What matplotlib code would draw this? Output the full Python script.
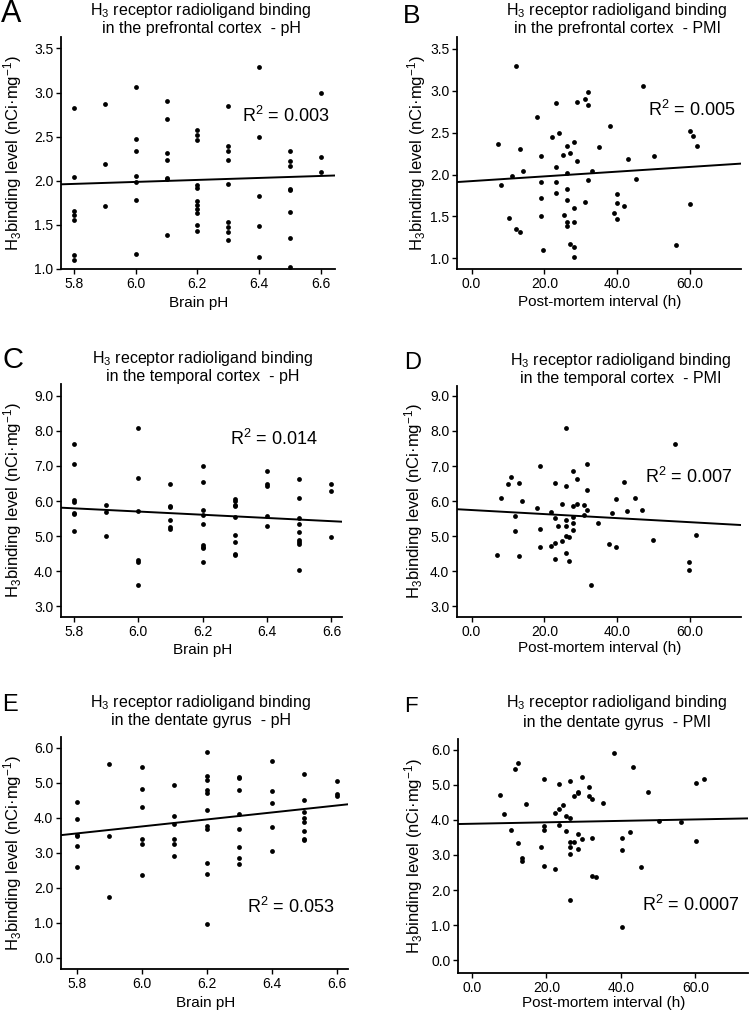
import numpy as np
import matplotlib
matplotlib.use("Agg")
import matplotlib.pyplot as plt

plt.rcParams['font.family'] = ['Liberation Sans', 'DejaVu Sans']
plt.rcParams['mathtext.fontset'] = 'custom'
plt.rcParams['mathtext.rm'] = 'Liberation Sans'
plt.rcParams['mathtext.it'] = 'Liberation Sans:italic'
plt.rcParams['mathtext.bf'] = 'Liberation Sans:bold'

# ---- data ----
ph_levels = [5.8, 5.9, 6.0, 6.1, 6.2, 6.3, 6.4, 6.5, 6.6]

# A: prefrontal cortex vs pH
a_vals = [[2.83, 2.04, 1.66, 1.61, 1.55, 1.16, 1.10],
          [2.87, 2.19, 1.71],
          [3.06, 2.47, 2.34, 2.05, 1.99, 1.78, 1.17],
          [2.91, 2.70, 2.31, 2.23, 2.03, 2.02, 1.38],
          [2.58, 2.52, 2.46, 1.95, 1.92, 1.77, 1.73, 1.68, 1.63, 1.50, 1.43],
          [2.85, 2.40, 2.34, 2.24, 1.96, 1.53, 1.48, 1.42, 1.33],
          [3.29, 2.50, 1.83, 1.49, 1.14],
          [2.34, 2.22, 2.17, 1.91, 1.89, 1.65, 1.35, 1.02],
          [2.99, 2.27, 2.10]]
a_fit = [1.96, 2.06]

# B: prefrontal cortex vs PMI
b_pmi = [7.3, 8.2, 10.3, 11.2, 12.3, 12.3, 13.2, 13.2, 14.2, 18.1, 19.1, 19.1,
         19.1, 19.1, 19.5, 22.1, 23.2, 23.2, 23.2, 23.2, 24.1, 25.1, 25.3, 26.1,
         26.1, 26.1, 26.1, 26.2, 26.2, 27.1, 27.1, 28.1, 28.1, 28.1, 28.1, 28.1,
         29.0, 29.0, 31.1, 31.1, 32.1, 32.1, 32.1, 33.1, 35.1, 38.1, 39.0, 40.0,
         40.0, 40.0, 42.0, 43.1, 45.1, 47.2, 50.1, 56.1, 59.9, 59.9, 60.9, 61.9]
b_val = [2.36, 1.88, 1.48, 1.98, 3.29, 1.35, 2.31, 1.32, 2.04, 2.69, 2.22, 1.91,
         1.72, 1.50, 1.10, 2.45, 2.85, 2.09, 1.91, 1.78, 2.49, 2.23, 1.52, 2.34,
         2.02, 1.83, 1.70, 1.43, 1.38, 2.26, 1.17, 2.39, 1.60, 1.43, 1.14, 1.02,
         2.86, 2.16, 2.90, 1.67, 2.98, 2.83, 1.94, 2.04, 2.33, 2.58, 1.54, 1.77,
         1.66, 1.47, 1.62, 2.18, 1.95, 3.06, 2.22, 1.16, 2.52, 1.65, 2.46, 2.34]
b_fit = [1.91, 2.13]

# C: temporal cortex vs pH
c_vals = [[7.63, 7.06, 6.02, 5.98, 5.65, 5.62, 5.15],
          [5.90, 5.70, 5.00],
          [8.08, 6.67, 5.72, 4.31, 4.27, 3.60],
          [6.50, 5.87, 5.82, 5.45, 5.25, 5.20],
          [7.00, 6.53, 5.73, 5.60, 5.35, 4.75, 4.70, 4.65, 4.27],
          [6.05, 6.00, 5.90, 5.85, 5.55, 5.02, 4.83, 4.48, 4.45],
          [6.85, 6.48, 6.42, 5.57, 5.28],
          [6.62, 6.08, 5.52, 5.35, 5.12, 4.88, 4.82, 4.77, 4.03],
          [6.50, 6.30, 4.97]]
c_fit = [5.81, 5.41]

# D: temporal cortex vs PMI
d_pmi = [6.9, 8.0, 9.9, 10.8, 11.9, 11.9, 12.9, 12.9, 13.9, 17.9, 18.9, 18.9,
         18.9, 21.8, 21.8, 22.8, 22.8, 22.8, 22.8, 23.8, 24.8, 24.8, 25.8, 25.8,
         25.8, 25.8, 25.8, 25.8, 26.7, 26.7, 27.8, 27.8, 27.8, 27.8, 27.8, 28.9,
         28.9, 30.8, 30.8, 31.8, 31.8, 31.8, 32.8, 34.8, 37.7, 38.7, 39.8, 39.8,
         41.8, 42.8, 44.8, 46.7, 49.7, 55.8, 59.7, 59.7, 61.7]
d_val = [4.47, 6.09, 6.49, 6.68, 5.59, 5.15, 6.51, 4.45, 6.01, 5.81, 7.01, 5.21,
         4.70, 5.68, 4.73, 6.51, 5.52, 4.80, 4.35, 5.29, 5.92, 4.86, 8.09, 6.44,
         5.47, 5.28, 5.02, 4.51, 4.98, 4.29, 6.87, 5.85, 5.55, 5.37, 5.17, 6.64,
         5.92, 5.90, 5.60, 7.07, 6.33, 5.74, 3.62, 5.37, 4.78, 5.65, 6.05, 4.68,
         6.54, 5.72, 6.09, 5.74, 4.89, 7.64, 4.28, 4.05, 5.05]
d_fit = [5.77, 5.32]

# E: dentate gyrus vs pH
e_vals = [[4.45, 3.95, 3.50, 3.47, 3.18, 2.60],
          [5.52, 3.48, 1.73],
          [5.44, 4.81, 4.31, 3.40, 3.25, 2.37],
          [4.93, 4.05, 3.83, 3.40, 3.24, 2.91],
          [5.88, 5.18, 5.08, 4.80, 4.70, 4.22, 3.75, 3.68, 2.70, 2.40, 0.95],
          [5.17, 5.12, 4.80, 4.10, 3.68, 3.15, 2.85, 2.67],
          [5.62, 4.75, 4.42, 3.72, 3.05],
          [5.24, 4.49, 4.17, 3.98, 3.88, 3.62, 3.40, 3.35],
          [5.04, 4.68, 4.62]]
e_fit = [3.50, 4.38]

# F: dentate gyrus vs PMI
f_pmi = [7.4, 8.5, 10.4, 11.5, 12.4, 12.4, 13.4, 13.4, 14.5, 18.4, 19.4, 19.4,
         19.4, 19.4, 22.4, 22.4, 23.4, 23.4, 23.4, 24.4, 25.3, 25.3, 26.3, 26.3,
         26.3, 26.3, 26.3, 26.3, 27.4, 27.4, 28.4, 28.4, 28.4, 28.4, 29.4, 29.4,
         31.3, 31.3, 32.3, 32.3, 32.3, 33.3, 35.3, 38.1, 40.3, 40.3, 40.3, 42.3,
         43.2, 45.3, 47.3, 50.2, 56.2, 60.2, 60.2, 62.2]
f_val = [4.70, 4.16, 3.70, 5.45, 5.61, 3.35, 2.90, 2.82, 4.44, 3.23, 5.17, 3.82,
         3.72, 2.69, 2.59, 4.20, 5.03, 4.30, 3.84, 4.41, 4.10, 3.67, 5.11, 4.05,
         3.38, 3.23, 3.04, 1.71, 4.67, 3.38, 4.76, 4.79, 3.60, 3.17, 5.23, 3.46,
         4.92, 4.69, 4.59, 3.48, 2.39, 2.37, 4.48, 5.90, 3.47, 3.13, 0.94, 3.66,
         5.51, 2.65, 4.80, 3.96, 3.94, 5.05, 3.41, 5.16]
f_fit = [3.88, 4.04]

r2_labels = ['0.003', '0.005', '0.014', '0.007', '0.053', '0.0007']
regions = ['prefrontal cortex', 'prefrontal cortex', 'temporal cortex',
           'temporal cortex', 'dentate gyrus', 'dentate gyrus']

W, H = 750, 1014
fig = plt.figure(figsize=(W / 100, H / 100), dpi=100)


def fx(x):
    return x / W


def fy(y):
    return 1 - y / H


def make_axes(l, t, r, b):
    ax = fig.add_axes([fx(l), fy(b), (r - l) / W, (b - t) / H])
    for s in ['top', 'right']:
        ax.spines[s].set_visible(False)
    for s in ['left', 'bottom']:
        ax.spines[s].set_linewidth(1.3)
    ax.tick_params(direction='out', length=3.5, width=1.0, labelsize=10, pad=2)
    return ax


ylab = 'H$_3$binding level (nCi·mg$^{-1}$)'

# panel layout in pixels: axes box, title centre, letter, labels, R2 text
panels = [
    dict(box=(61, 37, 335, 269), xlim=(5.758, 6.646), ylim=(1.0, 3.63),
         yt=np.arange(1.0, 3.51, 0.5), title_x=201, title_y=10, letter='A',
         let=(1, 14, 22), ylx=13, xly=303, r2=(242, 116), kind='pH'),
    dict(box=(457, 37, 741, 269), xlim=(-4, 74), ylim=(0.873, 3.64),
         yt=np.arange(1.0, 3.51, 0.5), title_x=617, title_y=10, letter='B',
         let=(403, 16, 19), ylx=417, xly=302, r2=(648, 110), kind='PMI'),
    dict(box=(61, 384, 342, 617), xlim=(5.76, 6.633), ylim=(2.69, 9.34),
         yt=np.arange(3.0, 9.01, 1.0), title_x=203, title_y=358, letter='C',
         let=(2, 360, 21), ylx=13, xly=650, r2=(230, 439), kind='pH'),
    dict(box=(457, 386, 741, 617), xlim=(-4, 74), ylim=(2.70, 9.28),
         yt=np.arange(3.0, 9.01, 1.0), title_x=621, title_y=360, letter='D',
         let=(404, 363, 17), ylx=414, xly=648, r2=(645, 477), kind='PMI'),
    dict(box=(61, 737, 348, 969), xlim=(5.752, 6.634), ylim=(-0.32, 6.30),
         yt=np.arange(0.0, 6.01, 1.0), title_x=201, title_y=702, letter='E',
         let=(2, 705, 17), ylx=13, xly=1003, r2=(247, 907), kind='pH'),
    dict(box=(458, 739, 748, 973), xlim=(-3.76, 74.1), ylim=(-0.36, 6.30),
         yt=np.arange(0.0, 6.01, 1.0), title_x=617, title_y=703, letter='F',
         let=(404, 706, 16), ylx=414, xly=1003, r2=(642, 905), kind='PMI'),
]

scatter_data = [(a_vals, None), (b_pmi, b_val), (c_vals, None),
                (d_pmi, d_val), (e_vals, None), (f_pmi, f_val)]
fits = [a_fit, b_fit, c_fit, d_fit, e_fit, f_fit]

for i, p in enumerate(panels):
    ax = make_axes(*p['box'])
    xs, ys = scatter_data[i]
    if p['kind'] == 'pH':
        px = [ph for ph, vals in zip(ph_levels, xs) for _ in vals]
        py = [v for vals in xs for v in vals]
        ax.set_xticks(ph_levels[::2])
        ax.set_xticklabels(['%.1f' % t for t in ph_levels[::2]])
        xlab = 'Brain pH'
        kind = 'pH'
    else:
        px, py = xs, ys
        ax.set_xticks([0, 20, 40, 60])
        ax.set_xticklabels(['0.0', '20.0', '40.0', '60.0'])
        xlab = 'Post-mortem interval (h)'
        kind = 'PMI'
    ax.scatter(px, py, s=12, color='black', linewidths=0, zorder=3)
    ax.plot(p['xlim'], fits[i], color='black', lw=1.4, zorder=2)
    ax.set_xlim(*p['xlim'])
    ax.set_ylim(*p['ylim'])
    ax.set_yticks(p['yt'])
    ax.set_yticklabels(['%.1f' % t for t in p['yt']])

    fig.text(fx(p['title_x']), fy(p['title_y']),
             'H$_3$ receptor radioligand binding', fontsize=11.5,
             ha='center', va='center')
    fig.text(fx(p['title_x']), fy(p['title_y'] + 19),
             'in the %s  - %s' % (regions[i], kind), fontsize=11.5,
             ha='center', va='center')
    lx, ly, ls = p['let']
    fig.text(fx(lx), fy(ly), p['letter'], fontsize=ls, ha='left', va='center')
    cy = (p['box'][1] + p['box'][3]) / 2
    fig.text(fx(p['ylx']), fy(cy), ylab, rotation=90, fontsize=12,
             ha='center', va='center')
    fig.text(fx((p['box'][0] + p['box'][2]) / 2 + 1), fy(p['xly']), xlab,
             fontsize=11, ha='center', va='center')
    rx, ry = p['r2']
    fig.text(fx(rx), fy(ry), 'R$^2$ = ' + r2_labels[i], fontsize=13,
             ha='left', va='center')

fig.savefig('out.png', dpi=100)
